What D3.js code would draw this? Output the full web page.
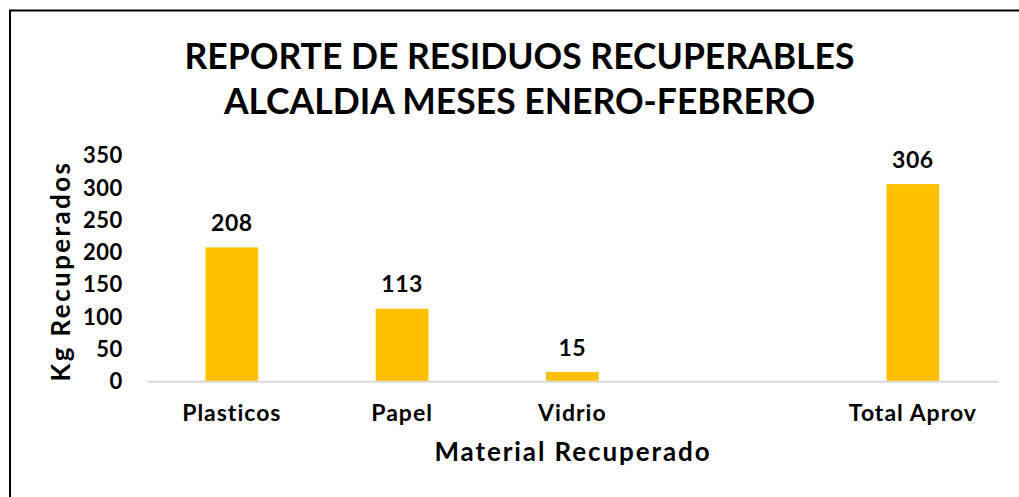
<!DOCTYPE html>
<html><head><meta charset="utf-8">
<script src="https://cdn.jsdelivr.net/npm/d3@7"></script>
<style>
html,body{margin:0;padding:0;background:#fff;}
text{font-family:Lato, "Open Sans", sans-serif;font-weight:700;fill:#000;}
</style></head>
<body>
<svg id="c" width="1019" height="497"></svg>
<script>
const categories = ["Plasticos", "Papel", "Vidrio", "", "Total Aprov"];
const values = [208, 113, 15, null, 306];
const yTicks = [0, 50, 100, 150, 200, 250, 300, 350];
const titleLines = ["REPORTE DE RESIDUOS RECUPERABLES", "ALCALDIA MESES ENERO-FEBRERO"];
const xTitle = "Material Recuperado";
const yTitle = "Kg Recuperados";

const svg = d3.select("#c");
const W = 1019, H = 497;
svg.append("rect").attr("width", W).attr("height", H).attr("fill", "#fff");
// outer border (left and top visible)
svg.append("path").attr("d", "M10,497 V10.5 H1019").attr("fill", "none").attr("stroke", "#000").attr("stroke-width", 2);

const plot = {left: 146.7, right: 998, top: 155.7, bottom: 381.7};
const x = d3.scaleBand().domain(categories.map((c, i) => i)).range([plot.left, plot.right]).paddingInner(0.69).paddingOuter(0.345);
const y = d3.scaleLinear().domain([0, 350]).range([plot.bottom, plot.top]);

// title
const t = svg.append("text").attr("text-anchor", "middle").style("font-size", "35.5px");
titleLines.forEach((l, i) => t.append("tspan").attr("x", 519.5).attr("y", 69 + i * 45).text(l));

// bars
const data = categories.map((c, i) => ({c, i, v: values[i]})).filter(d => d.v != null);
svg.selectAll("rect.bar").data(data).enter().append("rect").attr("class", "bar")
  .attr("x", d => x(d.i)).attr("width", x.bandwidth())
  .attr("y", d => y(d.v)).attr("height", d => y(0) - y(d.v))
  .attr("fill", "#FFC000");

// value labels
svg.selectAll("text.val").data(data).enter().append("text").attr("class", "val")
  .attr("x", d => x(d.i) + x.bandwidth() / 2).attr("y", d => y(d.v) - 16.5)
  .attr("text-anchor", "middle").style("font-size", "23px").style("letter-spacing", "0.5px").text(d => d.v);

// x axis
const xAxis = d3.axisBottom(x).tickSize(0).tickPadding(23).tickFormat(i => categories[i]);
const gx = svg.append("g").attr("transform", `translate(0,${plot.bottom})`).call(xAxis);
gx.select(".domain").attr("stroke", "#d9d9d9").attr("stroke-width", 2).attr("d", `M${plot.left},0H${plot.right}`);
gx.selectAll(".tick text").style("font-size", "23px").style("letter-spacing", "1px").attr("fill", "#000");

// y axis
const yAxis = d3.axisLeft(y).tickValues(yTicks).tickSize(0).tickPadding(24);
const gy = svg.append("g").attr("transform", `translate(${plot.left},0)`).call(yAxis);
gy.select(".domain").remove();
gy.selectAll(".tick text").style("font-size", "22px").style("letter-spacing", "0.5px").attr("fill", "#000");

// axis titles
svg.append("text").attr("x", 573).attr("y", 461).attr("text-anchor", "middle").style("font-size", "26px").style("letter-spacing", "1.9px").text(xTitle);
svg.append("text").attr("transform", "translate(70,271) rotate(-90)").attr("text-anchor", "middle").style("font-size", "26px").style("letter-spacing", "2.4px").text(yTitle);
</script>
</body></html>
